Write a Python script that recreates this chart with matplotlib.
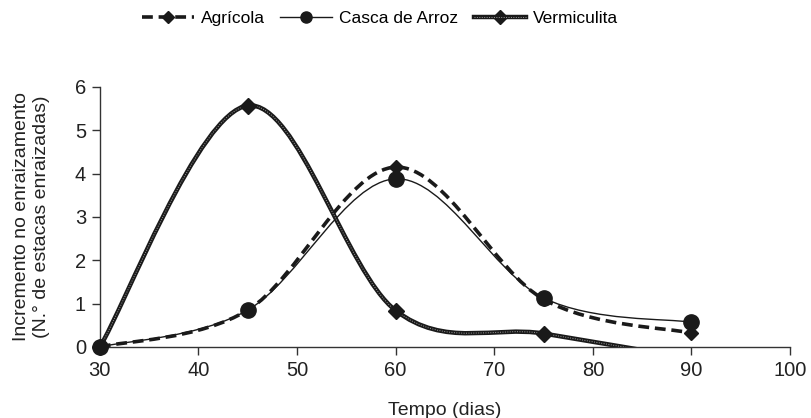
#!/usr/bin/env python3

import matplotlib
matplotlib.use('Agg')
import matplotlib.pyplot as plt
from matplotlib.path import Path
from matplotlib.patches import PathPatch
from matplotlib.lines import Line2D

plt.rcParams['font.family'] = ['Liberation Sans', 'DejaVu Sans']

# Data
dias = [30, 45, 60, 75, 90]
agricola = [0.0, 0.85, 4.15, 1.10, 0.32]
casca_arroz = [0.0, 0.85, 3.88, 1.13, 0.57]
vermiculita = [0.0, 5.57, 0.84, 0.31, -0.27]


def smooth_path(xs, ys):
    # Excel-like smoothed line: cubic Bezier segments (Catmull-Rom control points)
    pts = list(zip(xs, ys))
    verts = [pts[0]]
    codes = [Path.MOVETO]
    n = len(pts)
    for i in range(n - 1):
        p0 = pts[i - 1] if i > 0 else pts[i]
        p1 = pts[i]
        p2 = pts[i + 1]
        p3 = pts[i + 2] if i + 2 < n else pts[i + 1]
        c1 = (p1[0] + (p2[0] - p0[0]) / 6, p1[1] + (p2[1] - p0[1]) / 6)
        c2 = (p2[0] - (p3[0] - p1[0]) / 6, p2[1] - (p3[1] - p1[1]) / 6)
        verts += [c1, c2, p2]
        codes += [Path.CURVE4] * 3
    return Path(verts, codes)


fig = plt.figure(figsize=(8.12, 4.18), dpi=100)
ax = fig.add_axes([0.123, 0.17, 0.85, 0.622])

# Agrícola: thick dashed
ax.add_patch(PathPatch(smooth_path(dias, agricola), fill=False, color='#1a1a1a',
                       lw=2.6, linestyle=(0, (3, 1.6)), zorder=3))
# Casca de Arroz: thin solid
ax.add_patch(PathPatch(smooth_path(dias, casca_arroz), fill=False, color='#1a1a1a',
                       lw=1.0, zorder=3))
# Vermiculita: dark band with dotted light core
ax.add_patch(PathPatch(smooth_path(dias, vermiculita), fill=False, color='#1a1a1a',
                       lw=3.2, zorder=4))
ax.add_patch(PathPatch(smooth_path(dias, vermiculita), fill=False, color='#9a9a9a',
                       lw=0.7, linestyle=(0, (1, 1.5)), zorder=4))

ax.plot(dias, agricola, linestyle='none', marker='D', ms=7, color='#1a1a1a',
        zorder=5, clip_on=False)
ax.plot(dias, casca_arroz, linestyle='none', marker='o', ms=11, color='#1a1a1a',
        zorder=5, clip_on=False)
ax.plot([d for d, v in zip(dias, vermiculita) if v >= 0],
        [v for v in vermiculita if v >= 0], linestyle='none', marker='D', ms=8,
        color='#1a1a1a', zorder=6, clip_on=False)

ax.set_xlim(30, 100)
ax.set_ylim(0, 6)
ax.set_xticks(range(30, 101, 10))
ax.set_yticks(range(0, 7))
ax.spines['top'].set_visible(False)
ax.spines['right'].set_visible(False)
for s in ['left', 'bottom']:
    ax.spines[s].set_color('#333333')
    ax.spines[s].set_linewidth(1.0)
ax.tick_params(direction='out', length=6, width=1.0, colors='#333333',
               labelsize=14.5, labelcolor='#222222', pad=4)
ax.set_xlabel('Tempo (dias)', fontsize=14, color='#222222', labelpad=16)
ax.set_ylabel('Incremento no enraizamento\n(N.° de estacas enraizadas)',
              fontsize=14, color='#222222', labelpad=18, linespacing=1.2)

h_agr = Line2D([], [], color='#1a1a1a', lw=2.6, linestyle=(0, (3, 1.6)),
               marker='D', ms=6)
h_cas = Line2D([], [], color='#1a1a1a', lw=1.0, marker='o', ms=8)
h_ver = (Line2D([], [], color='#1a1a1a', lw=3.2, marker='D', ms=7),
         Line2D([], [], color='#9a9a9a', lw=0.7, linestyle=(0, (1, 1.5))))
fig.legend([h_agr, h_cas, h_ver], ['Agrícola', 'Casca de Arroz', 'Vermiculita'],
           loc='center', bbox_to_anchor=(0.468, 0.955), ncol=3, frameon=False,
           fontsize=12.5, handlelength=3.0, columnspacing=0.9, handletextpad=0.4)

fig.savefig('out.png', dpi=100)
